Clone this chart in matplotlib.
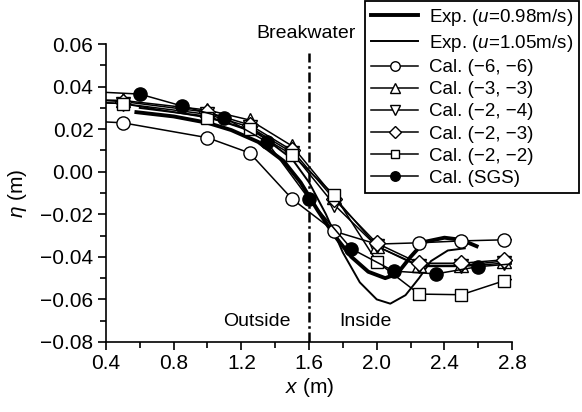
import matplotlib
matplotlib.use("Agg")
import matplotlib.pyplot as plt

plt.rcParams['font.family'] = ['Liberation Sans', 'DejaVu Sans']
plt.rcParams['mathtext.fontset'] = 'custom'
plt.rcParams['mathtext.it'] = 'Liberation Sans:italic'
plt.rcParams['mathtext.rm'] = 'Liberation Sans'

# experimental curves
exp98_x = [0.58, 0.8, 1.0, 1.14, 1.3, 1.45, 1.55, 1.65, 1.75, 1.85, 1.95, 2.05, 2.12, 2.2, 2.28, 2.4, 2.5, 2.59]
exp98_y = [0.028, 0.026, 0.023, 0.0196, 0.014, 0.005, -0.005, -0.018, -0.030, -0.040, -0.047, -0.050, -0.048, -0.040, -0.033, -0.031, -0.032, -0.035]
exp105_x = [0.6, 1.0, 1.3, 1.5, 1.6, 1.7, 1.8, 1.9, 2.0, 2.08, 2.17, 2.25, 2.32, 2.42, 2.52]
exp105_y = [0.030, 0.026, 0.018, 0.006, -0.005, -0.020, -0.038, -0.052, -0.060, -0.062, -0.058, -0.050, -0.042, -0.037, -0.036]

# calculations
cal_x = [0.25, 0.5, 1.0, 1.25, 1.5, 1.75, 2.0, 2.25, 2.5, 2.75, 3.0]
cal_66 = [0.024, 0.023, 0.016, 0.0088, -0.0128, -0.028, -0.034, -0.0334, -0.0325, -0.032, -0.032]
cal_33 = [0.034, 0.0335, 0.029, 0.0243, 0.0121, -0.012, -0.035, -0.044, -0.044, -0.042, -0.041]
cal_24 = [0.033, 0.032, 0.027, 0.021, 0.009, -0.0156, -0.035, -0.0445, -0.0445, -0.043, -0.042]
cal_23 = [0.034, 0.033, 0.028, 0.022, 0.010, -0.013, -0.0336, -0.043, -0.043, -0.0414, -0.041]
cal_22 = [0.033, 0.032, 0.0254, 0.020, 0.0079, -0.011, -0.0422, -0.0575, -0.0578, -0.0513, -0.048]
sgs_x = [0.35, 0.6, 0.85, 1.1, 1.35, 1.6, 1.85, 2.1, 2.35, 2.6, 2.85]
sgs_y = [0.0375, 0.0365, 0.0309, 0.0254, 0.0141, -0.0128, -0.0362, -0.0467, -0.048, -0.0446, -0.043]

fig = plt.figure(figsize=(5.82, 4.12), dpi=100)
ax = fig.add_axes([0.182, 0.170, 0.698, 0.723])

ax.plot(exp98_x, exp98_y, color='black', lw=2.8, label='Exp. ($\\it{u}$=0.98m/s)', zorder=2)
ax.plot(exp105_x, exp105_y, color='black', lw=1.4, label='Exp. ($\\it{u}$=1.05m/s)', zorder=2)

ms = 9.5
kw = dict(color='black', lw=1.1, ms=ms, markeredgewidth=1.0, zorder=3)
ax.plot(cal_x, cal_66, marker='o', mfc='white', label='Cal. (−6, −6)', **kw)
ax.plot(cal_x, cal_33, marker='^', mfc='white', label='Cal. (−3, −3)', **kw)
ax.plot(cal_x, cal_24, marker='v', mfc='white', label='Cal. (−2, −4)', **kw)
ax.plot(cal_x, cal_23, marker='D', mfc='white', label='Cal. (−2, −3)',
        color='black', lw=1.1, ms=ms - 1.5, markeredgewidth=1.0, zorder=3)
ax.plot(cal_x, cal_22, marker='s', mfc='white', label='Cal. (−2, −2)',
        color='black', lw=1.1, ms=ms - 1.2, markeredgewidth=1.0, zorder=3)
ax.plot(sgs_x, sgs_y, marker='o', mfc='black', label='Cal. (SGS)', **kw)

# breakwater
ax.plot([1.6, 1.6], [-0.08, 0.056], color='black', lw=1.8, ls=(0, (4, 1.5, 1, 1.5)), zorder=1)
ax.text(1.58, 0.0612, 'Breakwater', ha='center', va='bottom', fontsize=14)
ax.text(1.49, -0.0705, 'Outside', ha='right', va='center', fontsize=14)
ax.text(1.78, -0.0705, 'Inside', ha='left', va='center', fontsize=14)

ax.set_xlim(0.4, 2.8)
ax.set_ylim(-0.08, 0.06)
ax.set_xticks([0.4, 0.8, 1.2, 1.6, 2.0, 2.4, 2.8])
ax.set_xticks([0.6, 1.0, 1.4, 1.8, 2.2, 2.6], minor=True)
ax.set_yticks([-0.08, -0.06, -0.04, -0.02, 0.0, 0.02, 0.04, 0.06])
ax.set_yticks([-0.07, -0.05, -0.03, -0.01, 0.01, 0.03, 0.05], minor=True)
ax.set_xticklabels(['0.4', '0.8', '1.2', '1.6', '2.0', '2.4', '2.8'])
ax.set_yticklabels(['−0.08', '−0.06', '−0.04', '−0.02', '0.00', '0.02', '0.04', '0.06'])
ax.tick_params(which='both', direction='out', width=1.2, labelsize=15)
ax.tick_params(which='major', length=6, pad=3)
ax.tick_params(which='minor', length=4)
ax.spines['top'].set_visible(False)
ax.spines['right'].set_visible(False)
ax.spines['left'].set_linewidth(1.2)
ax.spines['bottom'].set_linewidth(1.2)

ax.set_xlabel('$\\it{x}$ (m)', fontsize=15, labelpad=2)
ax.set_ylabel('$\\it{\\eta}$ (m)', fontsize=15, labelpad=8)

leg = fig.legend(loc='upper left', bbox_to_anchor=(0.628, 0.997), fontsize=13.5,
                 frameon=True, fancybox=False, edgecolor='black', framealpha=1,
                 handlelength=2.5, labelspacing=0.27, markerscale=0.72,
                 borderpad=0.3, handletextpad=0.6, borderaxespad=0)
leg.get_frame().set_linewidth(1.3)

fig.savefig('out.png', dpi=100)
